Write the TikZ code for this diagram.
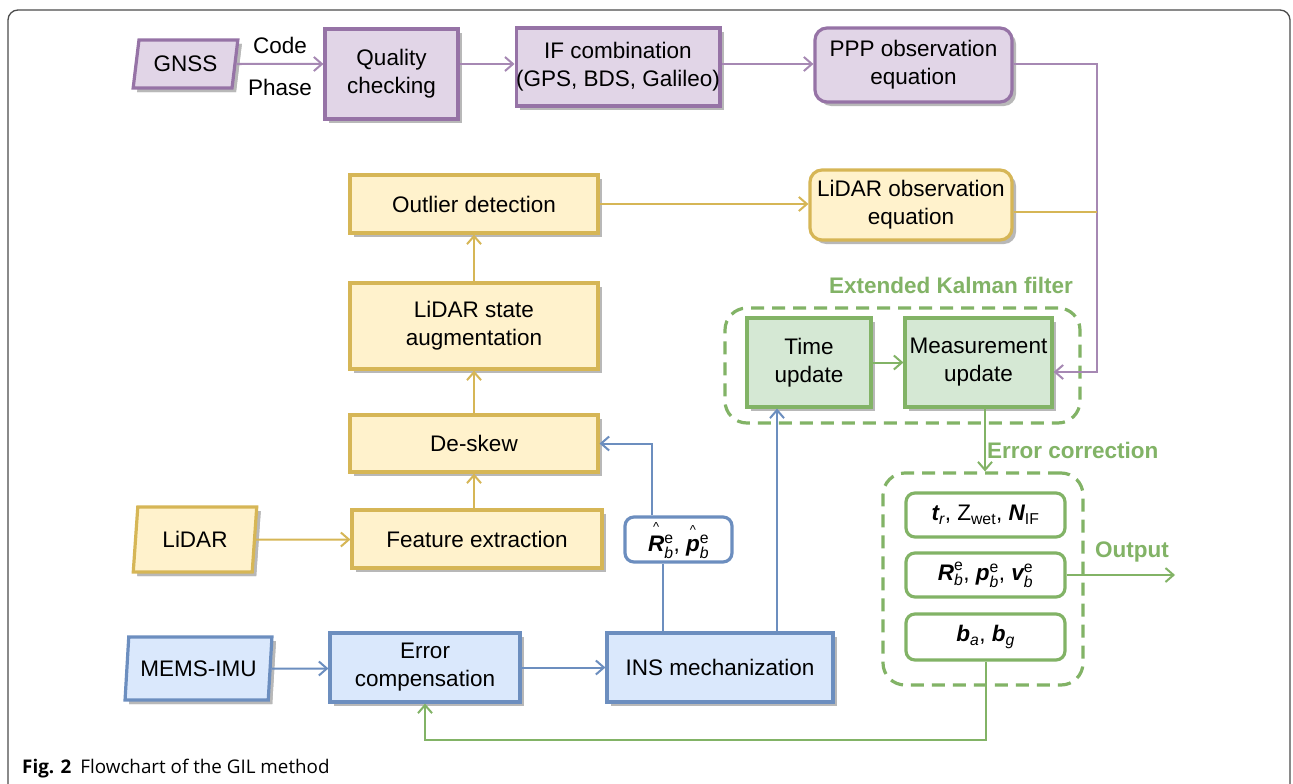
\documentclass[tikz,border=0pt]{standalone}
\usepackage{fontspec}
\usepackage{amsmath}
\setmainfont{Liberation Sans}
\newfontfamily\capfont{Open Sans}
\usetikzlibrary{arrows.meta,shapes.geometric,shadows}

\definecolor{pstroke}{HTML}{9673A6}
\definecolor{pfill}{HTML}{E1D5E7}
\definecolor{ystroke}{HTML}{D6B656}
\definecolor{yfill}{HTML}{FFF2CC}
\definecolor{bstroke}{HTML}{6C8EBF}
\definecolor{bfill}{HTML}{DAE8FC}
\definecolor{gstroke}{HTML}{82B366}
\definecolor{gfill}{HTML}{D5E8D4}

\newcommand{\bi}[1]{\text{\bfseries\itshape #1}}
\newcommand{\isub}[1]{\text{\itshape #1}}
% estimated quantity: small caret set above the symbol
\newcommand{\est}[1]{\overset{\text{\fontsize{13}{13}\selectfont\textasciicircum}}{#1}}

\tikzset{
  box/.style={line width=3.2pt, align=center, inner sep=0pt,
    font=\fontsize{22.5}{28}\selectfont,
    drop shadow={shadow xshift=4pt, shadow yshift=-4pt, fill=black!28, opacity=1}},
  para/.style={box, trapezium, trapezium stretches=true},
  pbox/.style={box, draw=pstroke, fill=pfill},
  ybox/.style={box, draw=ystroke, fill=yfill},
  bbox/.style={box, draw=bstroke, fill=bfill},
  gbox/.style={box, draw=gstroke, fill=gfill},
  obox/.style={line width=3.2pt, draw=gstroke, fill=white, rounded corners=9pt,
    align=center, inner sep=0pt, font=\fontsize{22.5}{28}\selectfont},
  grp/.style={draw=gstroke, line width=3.2pt, dash pattern=on 13pt off 8pt,
    rounded corners=22pt},
  conn/.style={line width=2pt, >={Straight Barb[length=8pt,width=14pt]}},
  pline/.style={conn, draw=pstroke!85},
  yline/.style={conn, draw=ystroke},
  bline/.style={conn, draw=bstroke},
  gline/.style={conn, draw=gstroke},
  glabel/.style={text=gstroke, font=\fontsize{22.5}{26}\bfseries\selectfont, inner sep=0pt},
  plain/.style={font=\fontsize{22.5}{26}\selectfont, inner sep=0pt},
}

\begin{document}
\begin{tikzpicture}[x=1pt, y=-1pt]
\useasboundingbox (0,0) rectangle (1293,784);
\fill[white] (0,0) rectangle (1293,784);

% outer frame
\draw[line width=1.3pt, black!70, rounded corners=10pt] (8,10) rectangle (1290,800);

% GNSS branch
\node[para, pbox, trapezium left angle=76, trapezium right angle=104,
  minimum width=105pt, minimum height=48pt] (gnss) at (185.5,64) {GNSS};
\node[pbox, minimum width=133pt, minimum height=90pt] (qc) at (391.5,74) {Quality\\checking};
\node[pbox, minimum width=190pt, minimum height=78pt] (ifc) at (618,67) {IF combination\\(GPS, BDS, Galileo)};
\node[pbox, rounded corners=12pt, minimum width=197pt, minimum height=74pt] (ppp) at (913.5,65) {PPP observation\\equation};
\node[plain] (code) at (280,45) {Code};
\node[plain] (phase) at (280,87) {Phase};

% LiDAR branch
\node[ybox, rounded corners=12pt, minimum width=202pt, minimum height=70pt] (lobs) at (911,205) {LiDAR observation\\equation};
\node[ybox, minimum width=248pt, minimum height=58pt] (outl) at (474,204) {Outlier detection};
\node[ybox, minimum width=248pt, minimum height=86pt] (aug) at (474,326) {LiDAR state\\augmentation};
\node[ybox, minimum width=248pt, minimum height=57pt] (desk) at (474,443.5) {De-skew};
\node[ybox, minimum width=250pt, minimum height=58pt] (feat) at (477,539) {Feature extraction};
\node[para, ybox, trapezium left angle=81, trapezium right angle=99,
  minimum width=124pt, minimum height=65pt] (lidar) at (195,539.5) {LiDAR};

% IMU branch
\node[para, bbox, trapezium left angle=79, trapezium right angle=101,
  minimum width=147pt, minimum height=63pt] (mems) at (198.5,668.5) {MEMS-IMU};
\node[bbox, minimum width=190pt, minimum height=69pt] (ec) at (425,667.5) {Error\\compensation};
\node[bbox, minimum width=226pt, minimum height=69pt] (ins) at (720,667.5) {INS mechanization};
\node[obox, draw=bstroke, minimum width=107pt, minimum height=45pt] (rp) at (678.5,539.5)
  {$\est{\bi{R}}{}^{\text{e}}_{\isub{b}}\text{, }\est{\bi{p}}{}^{\text{e}}_{\isub{b}}$};

% Kalman filter
\node[grp, minimum width=355pt, minimum height=115pt] (ekf) at (902.5,365.5) {};
\node[glabel] (ekflab) at (951,285) {Extended Kalman filter};
\node[gbox, minimum width=124pt, minimum height=89pt] (time) at (809,362.5) {Time\\update};
\node[gbox, minimum width=147pt, minimum height=89pt] (meas) at (978.5,362.5) {Measurement\\update};

% corrected states
\node[grp, minimum width=200pt, minimum height=212pt] (outbox) at (983,579) {};
\node[obox, minimum width=159pt, minimum height=44pt] (tbox) at (985.5,515)
  {$\bi{t}_{\isub{r}}$, Z$_{\text{wet}}$, $\bi{N}_{\text{IF}}$};
\node[obox, minimum width=159pt, minimum height=44pt] (rbox) at (985.5,575)
  {$\bi{R}^{\text{e}}_{\isub{b}}$, $\bi{p}^{\text{e}}_{\isub{b}}$, $\bi{v}^{\text{e}}_{\isub{b}}$};
\node[obox, minimum width=159pt, minimum height=46pt] (bbx) at (985.5,637)
  {$\bi{b}_{\isub{a}}$, $\bi{b}_{\isub{g}}$};
\node[glabel, anchor=west] (eclab) at (987,450) {Error correction};
\node[glabel] (outlab) at (1132,552) {Output};

% helper points for the connectors
\coordinate (pj) at (1097,212);
\coordinate (rpb) at ([xshift=-15.5pt]rp.south);
\coordinate (rpt) at ([xshift=-26.5pt]rp.north);
\coordinate (tb) at ([xshift=-32pt]time.south);
\coordinate (mb) at ([xshift=6.5pt]meas.south);
\coordinate (oend) at (1175,575);
\coordinate (fb) at (700,740);

% GNSS connectors
\draw[pline,->] (gnss) -- (qc.west |- gnss);
\draw[pline,->] (qc.east |- gnss) -- (ifc.west |- gnss);
\draw[pline,->] (ifc.east |- gnss) -- (ppp.west |- gnss);
\draw[pline,->] (ppp.east |- gnss) -| (pj) |- ([yshift=-9.5pt]meas.east);

% LiDAR connectors
\draw[yline,->] (lidar) -- (feat.west |- lidar);
\draw[yline,->] (feat.north -| desk) -- (desk.south);
\draw[yline,->] (desk.north) -- (aug.south);
\draw[yline,->] (aug.north) -- (outl.south);
\draw[yline,->] (outl.east) -- (lobs.west |- outl.east);
\draw[yline] (lobs.east |- pj) -- (pj);

% IMU connectors
\draw[bline,->] (mems) -- (ec.west |- mems);
\draw[bline,->] (ec.east) -- (ins.west);
\draw[bline] (rpb |- ins.north) -- (rpb);
\draw[bline,->] (rpt) |- (desk.east);
\draw[bline,->] (tb |- ins.north) -- (tb);

% filter connectors
\draw[gline,->] (time.east) -- (meas.west);
\draw[gline,->] (mb) -- (mb |- outbox.north);
\draw[gline,->] (rbox.east) -- (oend);
\draw[gline,->] (bbx.south) |- (fb) -| (ec.south);

% caption
\node[anchor=base west, inner sep=0pt, font=\capfont\fontsize{18.8}{22}\selectfont] (cap) at (22,773)
  {\textbf{Fig. 2}\hspace{9pt}Flowchart of the GIL method};
\end{tikzpicture}
\end{document}
